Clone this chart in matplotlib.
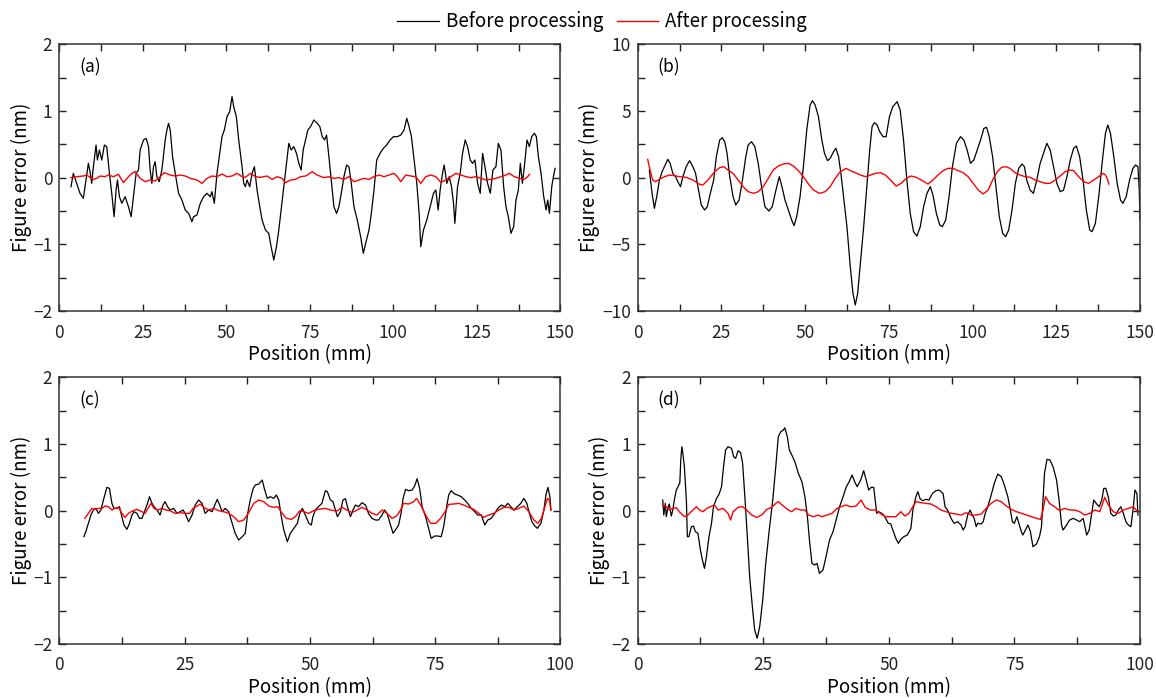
import numpy as np
import matplotlib
matplotlib.use("Agg")
import matplotlib.pyplot as plt
from matplotlib.ticker import MultipleLocator

plt.rcParams['font.family'] = ['Noto Sans CJK JP', 'DejaVu Sans']

# (a) profile over 150 mm
a_before_x = [3.5, 4.2, 5.2, 6.2, 7.2, 7.7, 8.7, 9.2, 9.7, 10.2, 11.0, 11.4, 12.0, 12.7, 13.5, 14.2, 15.0, 15.7, 16.4, 17.0,
              17.4, 18.0, 18.7, 19.7, 20.7, 21.5, 22.2, 23.0, 23.7, 24.2, 25.2, 26.0, 26.7, 27.2, 27.7, 28.2, 28.7, 29.2, 29.9, 30.7,
              31.7, 32.2, 32.7, 33.2, 33.9, 34.7, 35.7, 36.7, 37.7, 38.7, 39.7, 40.2, 41.2, 42.2, 43.2, 44.2, 45.2, 45.7, 46.4, 47.2,
              48.0, 48.7, 49.4, 50.2, 51.0, 51.7, 52.2, 53.0, 53.7, 54.7, 55.2, 55.7, 56.2, 57.0, 57.7, 58.4, 59.2, 60.0, 60.7, 61.7,
              62.7, 63.4, 64.2, 65.0, 65.7, 66.4, 67.2, 68.0, 68.7, 69.4, 70.2, 71.0, 71.7, 72.4, 73.0, 73.7, 74.4, 75.2, 76.2, 77.2,
              78.0, 78.7, 79.4, 80.0, 80.7, 81.4, 82.2, 83.0, 83.7, 84.4, 85.2, 86.0, 86.7, 87.4, 88.2, 89.2, 90.2, 91.0, 91.7, 92.7,
              93.4, 94.2, 95.0, 96.0, 97.0, 98.0, 99.0, 100.0, 101.2, 102.2, 103.2, 104.0, 104.7, 105.4, 106.2, 107.0, 107.7, 108.2, 109.0, 110.0,
              111.0, 112.0, 112.7, 113.4, 114.0, 114.7, 115.2, 116.0, 116.7, 117.4, 118.0, 118.4, 119.2, 120.0, 120.7, 121.5, 122.2, 123.0, 123.7, 124.4,
              125.2, 126.0, 126.7, 127.4, 128.2, 129.0, 129.8, 130.7, 131.4, 132.2, 133.0, 133.7, 134.4, 135.2, 136.0, 136.7, 137.4, 138.0, 138.6, 139.2,
              140.0, 140.7, 141.4, 142.2, 142.8, 143.4, 144.2, 145.0, 145.7, 146.2, 146.7, 147.4, 147.9, 148.4]
a_before_y = [-0.135, 0.065, -0.085, -0.235, -0.31, -0.135, 0.215, 0.09, -0.085, 0.165, 0.49, 0.265, 0.415, 0.265, 0.49, 0.465, 0.065, -0.235, -0.585, -0.185,
              -0.035, -0.285, -0.385, -0.285, -0.435, -0.585, -0.285, 0.065, 0.115, 0.415, 0.565, 0.59, 0.465, 0.115, -0.085, 0.165, 0.24, 0.015, -0.06, 0.115,
              0.565, 0.715, 0.815, 0.715, 0.315, 0.065, -0.235, -0.335, -0.485, -0.535, -0.66, -0.585, -0.56, -0.385, -0.285, -0.235, -0.285, -0.21, -0.385, 0.065,
              0.365, 0.615, 0.715, 0.915, 0.99, 1.215, 1.065, 0.915, 0.565, 0.165, -0.085, -0.135, -0.035, -0.135, 0.065, 0.165, -0.185, -0.435, -0.635, -0.785,
              -0.835, -1.035, -1.235, -1.035, -0.785, -0.485, -0.135, 0.215, 0.515, 0.415, 0.465, 0.365, 0.215, 0.115, 0.415, 0.565, 0.715, 0.765, 0.865, 0.815,
              0.765, 0.615, 0.565, 0.64, 0.315, -0.035, -0.435, -0.535, -0.435, -0.235, 0.015, 0.19, 0.165, -0.085, -0.435, -0.635, -0.885, -1.135, -0.985, -0.785,
              -0.535, -0.185, 0.265, 0.365, 0.44, 0.49, 0.565, 0.615, 0.615, 0.64, 0.715, 0.89, 0.765, 0.615, 0.265, -0.085, -0.535, -1.035, -0.785, -0.635,
              -0.435, -0.235, -0.185, -0.485, -0.185, 0.065, 0.19, -0.085, 0.015, -0.135, -0.385, -0.685, -0.135, 0.065, 0.365, 0.565, 0.465, 0.265, 0.215, 0.265,
              -0.085, -0.235, 0.365, 0.165, -0.085, -0.235, 0.115, 0.165, 0.515, 0.415, -0.135, -0.435, -0.585, -0.835, -0.735, -0.335, -0.185, 0.215, -0.085, 0.165,
              0.565, 0.465, 0.615, 0.665, 0.615, 0.315, 0.065, -0.285, -0.485, -0.335, -0.535, -0.135, 0.015, 0.14]
a_after_x = [3.5, 5.2, 7.2, 8.2, 9.2, 10.2, 11.2, 12.2, 13.7, 14.7, 16.2, 17.7, 19.2, 20.7, 21.7, 22.7, 24.2, 25.7, 27.2, 28.7,
             30.2, 31.4, 33.2, 34.7, 36.2, 37.7, 39.2, 41.2, 42.7, 44.2, 45.7, 47.2, 48.7, 50.2, 51.7, 53.2, 54.7, 55.7, 57.2, 58.7,
             60.2, 62.2, 63.7, 65.2, 66.7, 67.7, 69.2, 70.7, 72.2, 73.7, 74.7, 75.7, 77.2, 79.2, 80.7, 82.2, 83.7, 85.2, 86.7, 88.2,
             89.7, 91.2, 92.7, 94.2, 95.7, 97.2, 98.7, 100.2, 101.2, 102.2, 103.7, 105.2, 106.7, 108.2, 109.7, 111.2, 112.7, 114.2, 115.7, 117.2,
             118.7, 120.2, 121.7, 123.2, 124.7, 126.2, 127.7, 129.2, 130.7, 132.2, 133.7, 134.7, 136.2, 137.7, 139.2, 140.2, 140.7]
a_after_y = [0.0, 0.015, 0.025, 0.04, 0.005, -0.025, -0.01, 0.025, 0.015, 0.04, 0.015, 0.05, -0.075, 0.015, 0.065, 0.09, -0.01, -0.06, -0.035, -0.05,
             0.015, 0.075, 0.04, 0.025, 0.04, 0.025, -0.01, -0.035, -0.085, -0.01, 0.025, 0.015, 0.055, 0.015, 0.025, 0.065, 0.015, 0.005, 0.065, 0.015,
             0.005, 0.025, -0.025, 0.015, -0.01, -0.075, -0.035, -0.025, 0.015, 0.025, 0.055, 0.09, 0.04, 0.0, 0.015, -0.01, 0.0, -0.025, 0.015, -0.06,
             -0.035, -0.01, -0.025, 0.015, 0.04, 0.015, 0.04, 0.065, 0.015, -0.06, 0.04, 0.025, 0.015, -0.085, 0.015, 0.04, 0.015, -0.07, -0.035, 0.015,
             0.065, 0.04, 0.015, 0.0, 0.015, -0.01, -0.035, -0.025, -0.01, 0.015, 0.04, 0.065, 0.015, -0.01, -0.025, 0.015, 0.05]

# (b) profile over 150 mm
b_before_x = [3.5, 4.3, 5.0, 5.7, 6.5, 7.3, 8.0, 9.0, 9.7, 10.5, 11.3, 12.0, 12.8, 13.5, 14.5, 15.5, 16.5, 17.3, 18.0, 19.0,
              20.0, 20.8, 21.7, 22.7, 23.5, 24.5, 25.3, 26.0, 26.7, 27.5, 28.5, 29.3, 30.3, 31.3, 32.3, 33.0, 34.0, 35.0, 36.0, 37.0,
              38.0, 39.2, 40.2, 41.3, 42.3, 43.1, 44.0, 45.0, 46.0, 46.7, 47.5, 48.5, 49.5, 50.5, 51.5, 52.2, 53.0, 54.0, 55.0, 55.8,
              56.7, 57.5, 58.5, 59.2, 60.0, 60.7, 61.5, 62.5, 63.5, 64.3, 65.0, 65.7, 66.5, 67.5, 68.5, 69.3, 70.0, 70.7, 71.5, 72.3,
              73.3, 74.2, 75.2, 76.2, 77.5, 78.4, 79.4, 80.4, 81.4, 82.4, 83.4, 84.4, 85.4, 86.4, 87.4, 88.2, 89.2, 90.2, 91.0, 92.0,
              93.0, 94.0, 95.2, 96.4, 97.4, 98.4, 99.4, 100.4, 101.4, 102.4, 103.4, 104.2, 105.0, 106.0, 107.0, 108.0, 109.0, 109.9, 110.8, 111.8,
              112.8, 113.8, 114.8, 115.5, 116.2, 117.2, 118.2, 119.2, 120.2, 121.2, 122.2, 123.2, 124.2, 125.2, 126.2, 127.2, 128.2, 129.2, 130.2, 131.0,
              132.0, 133.0, 134.0, 135.0, 135.7, 136.7, 137.7, 138.7, 139.7, 140.4, 141.2, 142.2, 143.2, 144.2, 144.9, 145.9, 146.9, 147.9, 148.7, 149.4,
              149.8, 150.0]
b_before_y = [0.575, -1.175, -2.3, -1.425, -0.175, 0.45, 0.825, 1.375, 1.075, 0.325, 0.075, -0.3, -0.675, 0.075, 0.825, 1.275, 0.825, 0.325, -0.675, -2.05,
              -2.425, -2.175, -1.175, -0.175, 1.575, 2.825, 3.0, 2.7, 1.825, 0.075, -1.425, -2.05, -1.675, -0.175, 1.575, 2.45, 2.7, 2.325, 1.075, -0.675,
              -2.175, -2.5, -2.175, -0.925, 0.075, -0.675, -1.675, -2.425, -3.175, -3.6, -2.925, -1.425, 0.825, 3.575, 5.45, 5.775, 5.45, 4.575, 2.825, 1.825,
              1.275, 1.45, 1.95, 2.2, 1.575, 0.325, -1.425, -3.675, -6.675, -8.675, -9.55, -8.675, -6.425, -3.675, -0.425, 2.075, 3.825, 4.125, 3.95, 3.45,
              3.075, 3.075, 4.575, 5.325, 5.7, 5.075, 2.825, -0.175, -2.675, -4.05, -4.375, -3.675, -2.175, -1.175, -0.675, -1.3, -2.675, -3.55, -3.675, -3.175,
              -1.425, 0.825, 2.575, 3.075, 2.825, 2.075, 1.075, 1.325, 2.075, 2.825, 3.7, 3.775, 3.075, 1.575, -0.675, -2.925, -4.175, -4.425, -3.925, -2.425,
              -0.425, 0.7, 1.025, 0.825, -0.175, -0.925, -1.175, -0.175, 1.075, 1.825, 2.575, 2.075, 0.825, -0.425, -1.05, -0.925, 0.075, 1.325, 2.2, 2.375,
              1.575, -0.175, -2.425, -3.925, -4.05, -3.425, -1.425, 1.075, 3.325, 3.95, 3.325, 1.575, -0.425, -1.675, -1.925, -1.425, -0.175, 0.7, 0.95, 0.825,
              -0.9, -3.2]
b_after_x = [3.0, 3.7, 4.5, 5.3, 6.5, 8.0, 9.5, 11.0, 12.5, 14.5, 16.5, 18.5, 19.5, 21.0, 23.0, 24.5, 25.7, 27.0, 28.5, 30.0,
             31.5, 33.0, 34.7, 36.0, 37.5, 39.0, 40.5, 42.0, 43.5, 45.0, 46.5, 48.0, 49.5, 51.0, 52.5, 54.3, 56.0, 57.5, 59.0, 60.5,
             62.3, 63.5, 65.0, 66.5, 68.0, 69.5, 71.0, 72.5, 74.0, 75.5, 77.2, 78.7, 80.2, 81.7, 83.2, 84.7, 86.7, 88.2, 89.7, 91.2,
             92.7, 94.2, 95.7, 97.2, 98.7, 100.2, 101.7, 103.2, 104.7, 106.0, 107.4, 108.7, 110.0, 111.2, 112.7, 114.2, 115.7, 117.2, 118.7, 120.2,
             121.7, 123.2, 124.7, 126.2, 127.7, 129.0, 130.2, 131.7, 133.2, 134.7, 136.2, 137.7, 139.0, 139.7, 140.4, 140.7]
b_after_y = [1.375, 0.575, -0.175, -0.3, -0.125, 0.075, 0.2, 0.15, 0.075, 0.025, -0.175, -0.5, -0.55, -0.175, 0.45, 0.75, 0.825, 0.575, 0.325, -0.175,
             -0.675, -1.05, -1.175, -1.05, -0.675, -0.05, 0.575, 0.875, 1.025, 1.075, 0.875, 0.525, 0.075, -0.475, -0.925, -1.175, -1.05, -0.675, -0.05, 0.45,
             0.7, 0.525, 0.375, 0.2, 0.075, 0.2, 0.325, 0.375, 0.2, -0.175, -0.625, -0.425, -0.05, 0.125, 0.025, -0.175, -0.475, -0.175, 0.2, 0.525,
             0.7, 0.7, 0.525, 0.375, 0.075, -0.425, -0.925, -1.225, -0.925, -0.175, 0.45, 0.775, 0.825, 0.7, 0.375, 0.2, 0.075, 0.025, -0.175, -0.3,
             -0.425, -0.425, -0.175, 0.125, 0.45, 0.575, 0.525, 0.075, -0.3, -0.425, -0.175, 0.075, 0.325, 0.2, -0.175, -0.475]

# (c) profile over 100 mm
c_before_x = [4.9, 5.3, 5.8, 6.3, 6.8, 7.3, 7.8, 8.3, 8.8, 9.5, 10.0, 10.5, 10.9, 11.5, 12.0, 12.5, 12.9, 13.5, 14.0, 14.5,
              14.9, 15.5, 16.0, 16.5, 17.1, 17.6, 18.0, 18.5, 18.9, 19.5, 20.1, 20.7, 21.1, 21.6, 22.1, 22.8, 23.5, 24.1, 24.7, 25.1,
              25.8, 26.5, 27.1, 27.8, 28.5, 29.1, 29.8, 30.5, 30.9, 31.5, 32.0, 32.5, 33.1, 33.8, 34.5, 35.1, 35.8, 36.5, 37.1, 37.6,
              38.1, 38.7, 39.1, 39.8, 40.5, 40.9, 41.5, 42.1, 42.8, 43.3, 43.8, 44.3, 44.8, 45.5, 46.1, 46.8, 47.5, 48.0, 48.5, 49.1,
              49.8, 50.3, 50.6, 51.1, 51.7, 52.4, 53.1, 53.5, 54.1, 54.6, 55.1, 55.5, 56.1, 56.6, 57.1, 57.5, 58.1, 58.6, 59.1, 59.7,
              60.4, 61.1, 61.7, 62.4, 63.1, 63.7, 64.4, 64.9, 65.4, 66.1, 66.6, 67.3, 67.7, 68.2, 68.6, 69.1, 69.7, 70.4, 70.9, 71.4,
              71.9, 72.4, 73.1, 73.7, 74.2, 74.9, 75.5, 76.2, 76.7, 77.3, 77.7, 78.2, 78.9, 79.5, 80.2, 80.9, 81.5, 82.2, 82.9, 83.5,
              84.2, 84.9, 85.5, 86.2, 86.9, 87.5, 88.2, 88.9, 89.5, 90.1, 90.7, 91.4, 92.1, 92.7, 93.3, 93.8, 94.3, 94.9, 95.4, 96.1,
              96.7, 97.1, 97.5, 97.9, 98.1]
c_before_y = [-0.39, -0.315, -0.19, -0.065, 0.01, 0.035, -0.04, 0.01, 0.16, 0.35, 0.335, 0.11, 0.035, 0.035, 0.06, -0.09, -0.215, -0.28, -0.19, -0.065,
              -0.015, -0.04, -0.115, -0.115, 0.01, 0.11, 0.21, 0.11, 0.06, 0.01, -0.065, 0.085, 0.135, 0.06, 0.01, 0.035, -0.04, -0.015, 0.01, -0.04,
              -0.165, -0.065, 0.085, 0.16, 0.11, -0.04, 0.01, -0.015, 0.06, 0.17, 0.085, -0.015, 0.035, -0.015, -0.19, -0.34, -0.44, -0.39, -0.34, -0.04,
              0.16, 0.335, 0.385, 0.4, 0.46, 0.335, 0.185, 0.21, 0.185, 0.235, 0.16, -0.09, -0.29, -0.465, -0.34, -0.265, -0.19, -0.04, 0.035, -0.065,
              -0.19, -0.215, -0.09, 0.01, 0.06, 0.11, 0.3, 0.285, 0.16, 0.135, 0.01, -0.09, -0.015, 0.16, 0.18, 0.06, -0.09, 0.01, 0.085, 0.06,
              0.12, 0.085, -0.04, -0.115, -0.14, -0.14, -0.065, 0.01, -0.04, -0.215, -0.34, -0.265, -0.215, -0.04, 0.185, 0.32, 0.3, 0.31, 0.37, 0.48,
              0.335, 0.06, -0.09, -0.265, -0.415, -0.38, -0.38, -0.39, -0.24, 0.06, 0.235, 0.3, 0.25, 0.235, 0.21, 0.16, 0.11, 0.035, -0.015, -0.065,
              -0.065, -0.215, -0.14, -0.115, -0.04, 0.035, 0.085, 0.06, 0.11, 0.06, 0.01, 0.06, 0.11, 0.185, 0.11, -0.04, -0.165, -0.23, -0.265, -0.19,
              0.01, 0.235, 0.35, 0.21, 0.01]
c_after_x = [5.1, 5.8, 6.5, 7.1, 7.8, 8.5, 9.1, 9.8, 10.5, 11.1, 11.8, 12.5, 13.1, 13.8, 14.7, 15.5, 16.5, 17.1, 17.8, 18.3,
             18.9, 19.6, 20.5, 21.3, 22.1, 23.1, 24.1, 25.1, 26.0, 26.7, 27.5, 28.1, 28.8, 29.8, 30.8, 31.8, 32.8, 33.8, 34.8, 35.8,
             36.8, 37.8, 38.8, 39.8, 40.8, 41.8, 42.8, 43.6, 44.5, 45.3, 46.3, 47.1, 48.0, 48.8, 49.8, 50.7, 51.7, 53.1, 54.1, 55.4,
             56.4, 57.4, 58.4, 59.4, 60.4, 61.4, 62.4, 63.4, 64.4, 65.4, 66.4, 67.3, 68.1, 68.7, 69.7, 70.7, 71.3, 72.1, 73.1, 74.1,
             75.1, 76.1, 77.1, 77.7, 78.7, 79.7, 80.7, 81.7, 82.7, 83.7, 84.7, 85.7, 86.7, 87.7, 88.7, 89.7, 90.7, 91.7, 92.7, 93.7,
             94.7, 95.5, 96.2, 96.7, 97.4, 97.8, 98.1]
c_after_y = [-0.115, -0.04, 0.035, 0.02, 0.035, 0.035, 0.07, 0.06, 0.01, 0.035, 0.05, -0.04, -0.1, -0.04, 0.0, 0.02, -0.015, -0.04, 0.05, 0.11,
             0.035, 0.01, 0.035, 0.01, 0.0, -0.04, -0.03, -0.04, -0.04, 0.035, 0.07, 0.1, 0.05, 0.01, 0.035, 0.0, -0.015, -0.04, -0.09, -0.165,
             -0.14, -0.03, 0.11, 0.16, 0.135, 0.07, 0.05, 0.06, -0.04, -0.115, -0.13, -0.09, 0.0, -0.015, -0.04, 0.0, 0.02, 0.035, 0.01, -0.005,
             0.05, 0.01, -0.03, 0.01, 0.05, 0.01, -0.04, -0.065, 0.01, -0.04, -0.115, -0.08, 0.01, 0.11, 0.1, 0.135, 0.185, 0.085, -0.065, -0.19,
             -0.19, -0.115, 0.0, 0.095, 0.1, 0.11, 0.085, 0.05, 0.02, -0.04, -0.1, -0.065, -0.04, 0.01, 0.05, 0.05, 0.01, 0.035, 0.07, -0.015,
             -0.14, -0.19, -0.115, 0.01, 0.185, 0.16, 0.01]

# (d) profile over 100 mm
d_before_x = [5.0, 5.2, 5.5, 5.7, 6.0, 6.3, 6.7, 7.0, 7.3, 7.7, 8.1, 8.4, 8.6, 8.8, 9.0, 9.3, 9.7, 9.9, 10.2, 10.7,
              11.1, 11.5, 12.0, 12.5, 12.9, 13.3, 13.7, 14.2, 14.7, 15.1, 15.7, 16.2, 16.7, 17.1, 17.5, 18.0, 18.7, 19.1, 19.5, 20.0,
              20.5, 20.9, 21.3, 21.8, 22.3, 22.9, 23.3, 23.8, 24.3, 24.9, 25.5, 26.2, 26.9, 27.5, 28.0, 28.5, 29.0, 29.3, 29.8, 30.2,
              30.7, 31.3, 32.0, 32.7, 33.3, 33.8, 34.2, 34.7, 35.2, 35.7, 36.2, 36.9, 37.5, 38.2, 38.9, 39.5, 40.2, 40.9, 41.5, 42.2,
              42.7, 43.2, 43.7, 44.4, 45.0, 45.5, 46.0, 46.5, 47.0, 47.6, 48.0, 48.6, 49.0, 49.9, 50.4, 50.8, 51.4, 51.9, 52.4, 53.0,
              53.7, 54.4, 54.8, 55.4, 55.8, 56.2, 56.7, 57.4, 58.0, 58.7, 59.4, 60.0, 60.8, 61.2, 61.7, 62.4, 63.0, 63.7, 64.4, 64.8,
              65.2, 65.7, 66.2, 66.6, 67.0, 67.4, 67.7, 68.4, 68.8, 69.2, 69.7, 70.3, 71.0, 71.7, 72.4, 73.0, 73.7, 74.2, 74.6, 75.0,
              75.5, 76.0, 76.4, 76.7, 77.2, 77.7, 78.2, 78.7, 79.4, 80.0, 80.4, 80.7, 81.0, 81.5, 82.1, 82.7, 83.4, 83.9, 84.4, 84.7,
              85.4, 86.0, 86.7, 87.4, 88.0, 88.7, 89.4, 89.9, 90.4, 90.8, 91.4, 91.9, 92.4, 92.8, 93.2, 93.7, 94.2, 94.7, 95.2, 95.7,
              96.2, 96.7, 97.2, 97.7, 98.2, 98.7, 99.0, 99.4, 99.6]
d_before_y = [0.16, -0.065, 0.11, -0.09, 0.035, 0.1, -0.08, 0.01, 0.16, 0.31, 0.37, 0.42, 0.785, 0.96, 0.86, 0.66, 0.16, -0.39, -0.39, -0.24,
              -0.23, -0.315, -0.34, -0.59, -0.74, -0.865, -0.69, -0.39, -0.19, 0.06, 0.185, 0.245, 0.36, 0.66, 0.91, 0.96, 0.935, 0.81, 0.785, 0.9,
              0.87, 0.71, 0.26, -0.34, -0.99, -1.49, -1.79, -1.915, -1.74, -1.34, -0.79, -0.29, 0.16, 0.66, 1.11, 1.185, 1.21, 1.245, 1.11, 0.91,
              0.835, 0.735, 0.56, 0.435, 0.21, -0.09, -0.44, -0.79, -0.815, -0.79, -0.94, -0.89, -0.69, -0.44, -0.315, -0.14, 0.06, 0.21, 0.35, 0.45,
              0.535, 0.435, 0.36, 0.46, 0.6, 0.46, 0.31, 0.35, 0.35, -0.04, -0.015, -0.04, -0.065, -0.19, -0.2, -0.29, -0.415, -0.49, -0.43, -0.39,
              -0.365, -0.265, 0.01, 0.21, 0.285, 0.185, 0.15, 0.17, 0.16, 0.26, 0.3, 0.31, 0.26, 0.06, 0.01, -0.115, -0.19, -0.165, -0.215, -0.29,
              -0.24, -0.065, 0.01, -0.065, -0.115, -0.24, -0.19, -0.2, -0.165, -0.04, 0.06, 0.21, 0.41, 0.55, 0.51, 0.385, 0.21, 0.01, -0.165, -0.19,
              -0.09, -0.215, -0.315, -0.365, -0.29, -0.215, -0.315, -0.54, -0.5, -0.39, -0.24, 0.16, 0.56, 0.77, 0.76, 0.66, 0.46, 0.16, -0.215, -0.29,
              -0.215, -0.14, -0.115, -0.14, -0.165, -0.115, -0.365, -0.29, -0.04, 0.16, 0.1, 0.06, 0.16, 0.335, 0.335, 0.21, -0.04, -0.08, -0.065, 0.01,
              0.06, -0.04, -0.165, -0.215, -0.24, 0.06, 0.31, 0.26, -0.065]
d_after_x = [5.0, 5.7, 6.3, 7.0, 7.7, 8.3, 9.3, 10.0, 11.0, 11.7, 12.3, 13.0, 13.8, 14.5, 15.3, 16.0, 17.0, 18.0, 18.5, 19.0,
             20.0, 20.9, 21.7, 22.7, 23.7, 24.7, 25.7, 26.7, 27.5, 28.0, 29.0, 30.0, 30.7, 31.5, 32.5, 33.3, 34.0, 35.0, 36.0, 36.7,
             37.7, 38.7, 39.7, 40.5, 41.4, 42.4, 43.5, 44.5, 45.3, 46.3, 47.3, 48.3, 49.3, 50.4, 51.4, 52.4, 53.2, 54.0, 54.7, 55.4,
             56.4, 57.4, 58.4, 59.4, 60.4, 61.4, 62.4, 63.4, 64.4, 65.4, 66.4, 67.4, 68.4, 69.4, 70.4, 71.4, 72.4, 73.4, 74.4, 75.4,
             76.4, 77.4, 78.4, 79.4, 80.2, 80.7, 81.2, 82.0, 83.0, 84.0, 85.0, 86.0, 87.0, 88.0, 89.0, 90.0, 91.0, 92.0, 93.0, 93.7,
             94.7, 95.7, 96.7, 97.7, 98.7, 99.5]
d_after_y = [0.085, 0.06, 0.01, 0.035, 0.045, -0.015, -0.09, -0.065, 0.01, 0.06, 0.01, -0.015, 0.035, 0.06, 0.085, 0.01, 0.035, -0.04, -0.14, -0.015,
             0.05, 0.06, 0.01, -0.065, -0.1, -0.065, 0.02, 0.05, 0.11, 0.135, 0.07, 0.01, -0.015, 0.035, 0.01, 0.01, -0.065, -0.09, -0.065, -0.09,
             -0.065, -0.04, 0.035, 0.06, 0.085, 0.06, 0.07, 0.16, 0.05, 0.01, 0.01, -0.04, -0.09, -0.09, -0.09, -0.015, -0.08, -0.04, 0.05, 0.135,
             0.12, 0.11, 0.1, 0.06, 0.01, -0.015, -0.04, -0.05, -0.065, -0.03, -0.065, -0.065, -0.05, 0.035, 0.11, 0.16, 0.135, 0.07, 0.02, -0.015,
             -0.04, -0.065, -0.09, -0.115, -0.13, 0.01, 0.21, 0.11, 0.06, 0.0, 0.035, 0.01, 0.01, -0.015, -0.065, -0.04, 0.01, -0.015, 0.2, 0.085,
             -0.015, -0.04, 0.01, 0.035, 0.06, -0.015]

panels = [
    ("(a)", a_before_x, a_before_y, a_after_x, a_after_y, 150, 2, 25, 12.5, 1, 0.5),
    ("(b)", b_before_x, b_before_y, b_after_x, b_after_y, 150, 10, 25, 12.5, 5, 2.5),
    ("(c)", c_before_x, c_before_y, c_after_x, c_after_y, 100, 2, 25, 12.5, 1, 0.5),
    ("(d)", d_before_x, d_before_y, d_after_x, d_after_y, 100, 2, 25, 12.5, 1, 0.5),
]

fig = plt.figure(figsize=(11.56, 6.98), dpi=100)
boxes = [
    [0.0513, 0.5544, 0.4335, 0.3821],
    [0.5516, 0.5544, 0.4345, 0.3821],
    [0.0513, 0.0774, 0.4335, 0.3819],
    [0.5516, 0.0774, 0.4345, 0.3819],
]

for box, (tag, bx, by, ax_x, ax_y, xmax, ylim, xmaj, xmin, ymaj, ymin) in zip(boxes, panels):
    ax = fig.add_axes(box)
    lb, = ax.plot(bx, by, color="black", lw=0.9, label="Before processing")
    la, = ax.plot(ax_x, ax_y, color="red", lw=1.0, label="After processing")
    ax.set_xlim(0, xmax)
    ax.set_ylim(-ylim, ylim)
    ax.xaxis.set_major_locator(MultipleLocator(xmaj))
    ax.xaxis.set_minor_locator(MultipleLocator(xmin))
    ax.yaxis.set_major_locator(MultipleLocator(ymaj))
    ax.yaxis.set_minor_locator(MultipleLocator(ymin))
    ax.tick_params(which="both", direction="in", top=True, right=True, labelsize=12.5, colors="#222222")
    ax.tick_params(which="major", length=5, width=1)
    ax.tick_params(which="minor", length=5, width=1)
    ax.tick_params(axis="x", pad=9)
    ax.tick_params(axis="y", pad=5)
    for s in ax.spines.values():
        s.set_color("#333333")
        s.set_linewidth(1.1)
    ax.set_xlabel("Position (mm)", fontsize=13.5, labelpad=2)
    ax.set_ylabel("Figure error (nm)", fontsize=13.5, labelpad=1)
    ax.text(0.04, 0.915, tag, transform=ax.transAxes, fontsize=12.5, va="center", ha="left")

fig.legend(handles=[lb, la], loc="upper center", bbox_to_anchor=(0.521, 1.008), ncol=2, frameon=False,
           fontsize=13.5, handlelength=2.2, columnspacing=0.7, handletextpad=0.4)

fig.savefig("out.png", dpi=100)
